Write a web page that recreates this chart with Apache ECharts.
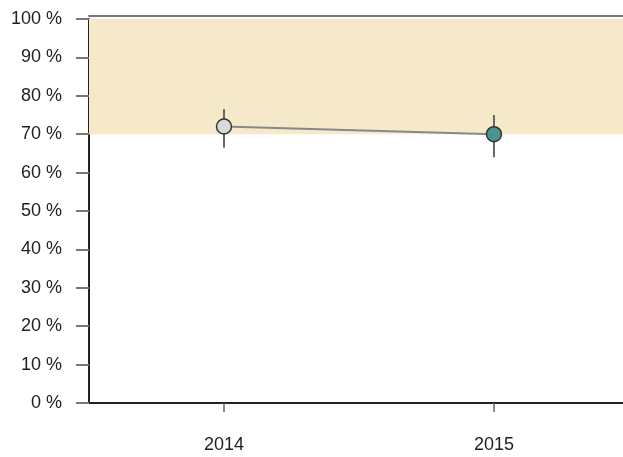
<!DOCTYPE html>
<html><head><meta charset="utf-8">
<script src="https://cdn.jsdelivr.net/npm/echarts@6/dist/echarts.min.js"></script>
<style>html,body{margin:0;padding:0;background:#fff}#c{width:623px;height:457px}</style>
</head><body><div id="c"></div>
<script>
const categories = ['2014', '2015'];
const values = [72, 70];
const errLow = [66.5, 64];
const errHigh = [76.5, 75];
const pointColors = ['#d9d9d9', '#4a9490'];
const bandRange = [70, 100];
const yTicks = [0, 10, 20, 30, 40, 50, 60, 70, 80, 90, 100];
const catIdx = categories.map((c, i) => i);

const chart = echarts.init(document.getElementById('c'), null, {renderer: 'canvas'});
const font = {fontFamily: 'Liberation Sans, Arial, sans-serif', fontSize: 18, color: '#222'};
chart.setOption({
  animation: false,
  grid: {left: 89, right: 0, top: 19, bottom: 54},
  xAxis: [{
    type: 'value', min: -0.5, max: 1.478,
    axisLine: {onZero: false, lineStyle: {color: '#222', width: 2}},
    axisTick: {customValues: catIdx, length: 9, lineStyle: {color: '#666', width: 1.5}},
    axisLabel: Object.assign({customValues: catIdx, margin: 33, formatter: v => categories[Math.round(v)]}, font),
    splitLine: {show: false}
  }, {
    type: 'value', min: -0.5, max: 1.478, position: 'top', offset: 3,
    axisLine: {show: true, onZero: false, lineStyle: {color: '#777', width: 2}},
    axisTick: {show: false}, axisLabel: {show: false}, splitLine: {show: false}
  }],
  yAxis: {
    type: 'value', min: yTicks[0], max: yTicks[yTicks.length - 1], interval: 10,
    axisLine: {show: true, onZero: false, lineStyle: {color: '#222', width: 2}},
    axisTick: {show: true, length: 13, lineStyle: {color: '#777', width: 2}},
    axisLabel: Object.assign({margin: 27, formatter: v => v + ' %'}, font),
    splitLine: {show: false}
  },
  series: [{
    type: 'line',
    data: values.map((v, i) => ({value: [i, v], itemStyle: {color: pointColors[i], borderColor: '#333', borderWidth: 1.5}})),
    symbol: 'circle', symbolSize: 15,
    lineStyle: {color: '#888', width: 2},
    z: 5,
    markArea: {silent: true, itemStyle: {color: '#f5e9c9'}, data: [[{yAxis: bandRange[0]}, {yAxis: bandRange[1]}]]}
  }, {
    type: 'custom',
    data: categories.map((c, i) => [i, errLow[i], errHigh[i]]),
    z: 3,
    renderItem: function (params, api) {
      const lo = api.coord([api.value(0), api.value(1)]);
      const hi = api.coord([api.value(0), api.value(2)]);
      return {type: 'line', shape: {x1: lo[0], y1: lo[1], x2: hi[0], y2: hi[1]}, style: {stroke: '#666', lineWidth: 2}};
    }
  }]
});
</script></body></html>
